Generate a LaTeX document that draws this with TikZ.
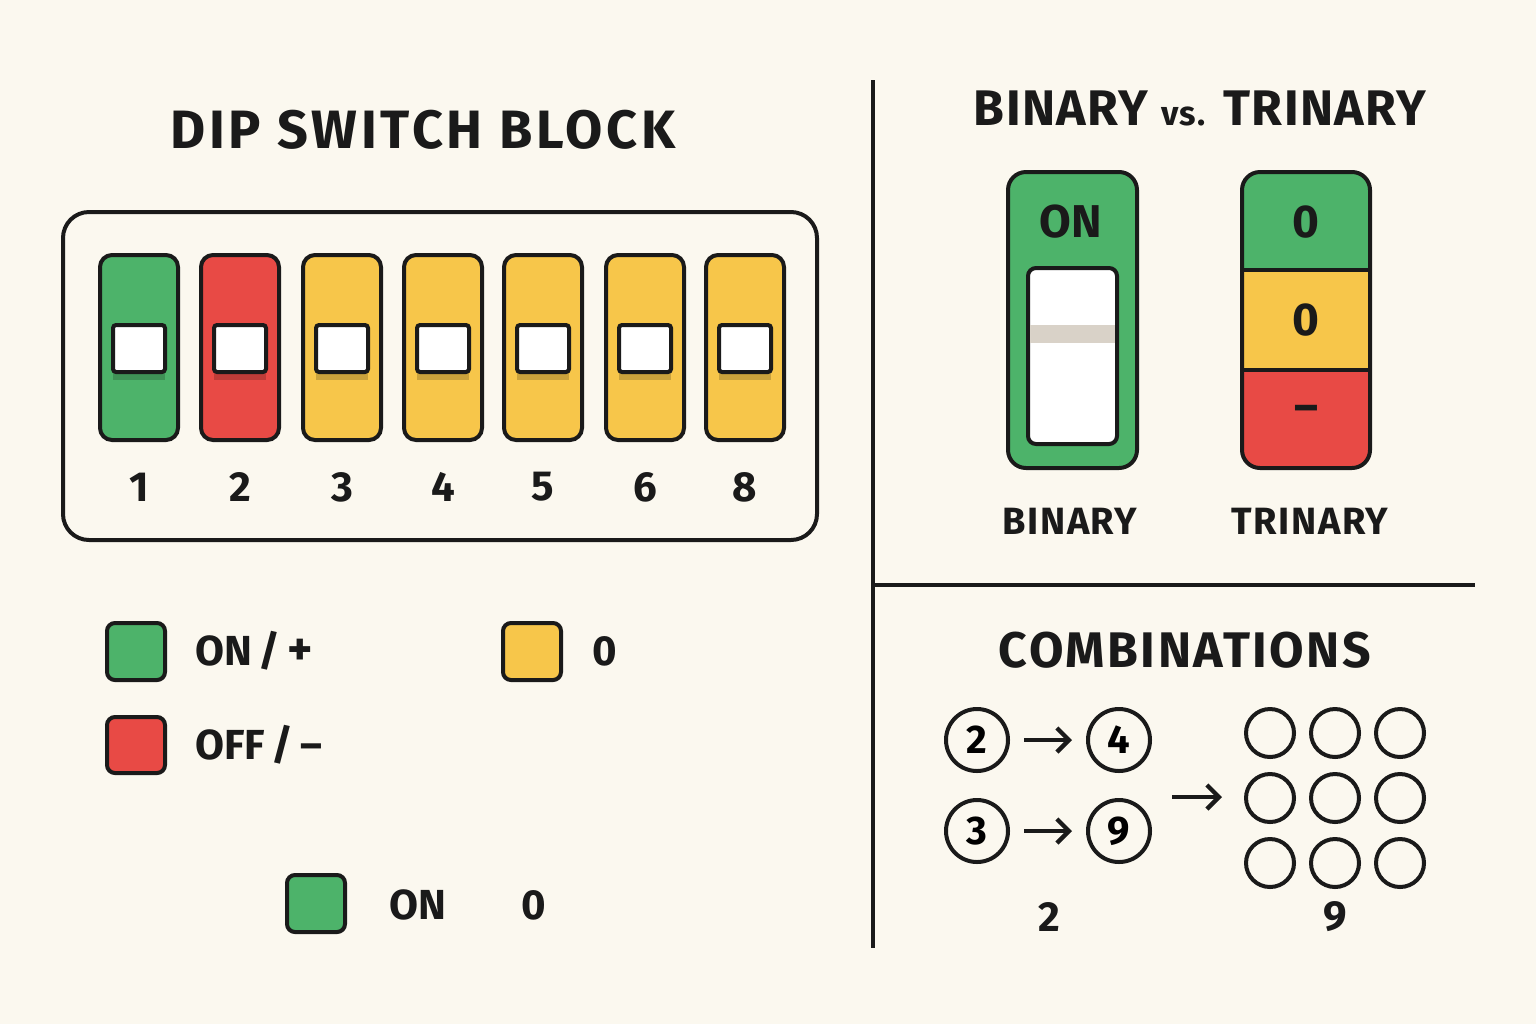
\documentclass[tikz,border=0pt]{standalone}
\usepackage{fontspec}
\setmainfont{Fira Sans}
\usetikzlibrary{arrows.meta}
\definecolor{bg}{HTML}{FBF8EF}
\definecolor{gr}{HTML}{4DB36A}
\definecolor{rd}{HTML}{E84A45}
\definecolor{yl}{HTML}{F7C64A}
\definecolor{ink}{HTML}{1A1A1A}
\definecolor{shd}{HTML}{D9D2C8}
\tikzset{
 x=0.5pt,y=-0.5pt,
 ol/.style={draw=ink,line width=2pt},
 sw/.style={ol,rounded corners=6pt},
 knob/.style={ol,fill=white,rounded corners=1.5pt},
 sq/.style={ol,rounded corners=4pt},
 big/.style={font=\fontsize{27}{30}\selectfont\bfseries\addfontfeature{LetterSpace=7},text=ink},
 mid/.style={font=\fontsize{21}{24}\selectfont\bfseries,text=ink},
 lab/.style={font=\fontsize{19}{22}\selectfont\bfseries\addfontfeature{LetterSpace=4},text=ink},
 cc/.style={ol,circle,minimum size=31pt,inner sep=0pt,font=\fontsize{20}{22}\selectfont\bfseries},
 gc/.style={ol,circle,minimum size=24pt,inner sep=0pt},
 arr/.style={draw=ink,line width=2.2pt,shorten <=7pt,shorten >=7pt,-{Straight Barb[length=6pt,width=12pt]}}
}
\begin{document}
\begin{tikzpicture}
\fill[bg] (0,0) rectangle (1536,1024);
\useasboundingbox (0,0) rectangle (1536,1024);
\node[big] (t1) at (423,130) {DIP SWITCH BLOCK};
\draw[ol,rounded corners=13pt] (63,212) rectangle (817,540);
\foreach \x/\c/\n in {139/gr/1,240/rd/2,342/yl/3,443/yl/4,543/yl/5,645/yl/6,745/yl/8}{
 \draw[sw,fill=\c] (\x-39,255) rectangle (\x+39,440);
 \fill[black,opacity=0.18] (\x-26,372) rectangle (\x+26,380);
 \draw[knob] (\x-26,325) rectangle (\x+26,372);
 \node[mid] (n\n) at (\x,487) {\n};
}
\draw[ol] (873,80) -- (873,948);
\draw[ol] (875,585) -- (1475,585);
\node[big,font=\fontsize{25}{28}\selectfont\bfseries\addfontfeature{LetterSpace=3}] (t2) at (1200,108) {BINARY {\fontsize{17}{20}\selectfont vs.} TRINARY};
% binary
\draw[sw,fill=gr,rounded corners=9pt] (1008,172) rectangle (1137,468);
\node[mid,font=\fontsize{23}{25}\selectfont\bfseries] (on) at (1071,222) {ON};
\draw[knob,rounded corners=4pt] (1028,268) rectangle (1117,444);
\fill[shd] (1030,325) rectangle (1115,343);
% trinary
\begin{scope}
\clip[rounded corners=9pt] (1242,172) rectangle (1370,468);
\fill[gr] (1242,172) rectangle (1370,270);
\fill[yl] (1242,270) rectangle (1370,370);
\fill[rd] (1242,370) rectangle (1370,468);
\end{scope}
\draw[ol] (1242,270) -- (1370,270) (1242,370) -- (1370,370);
\draw[sw,rounded corners=9pt] (1242,172) rectangle (1370,468);
\node[mid,font=\fontsize{23}{25}\selectfont\bfseries] (z1) at (1306,222) {0};
\node[mid,font=\fontsize{23}{25}\selectfont\bfseries] (z2) at (1306,320) {0};
\node[mid,font=\fontsize{23}{25}\selectfont\bfseries] (m1) at (1306,414) {–};
\node[lab] (lb) at (1070,521) {BINARY};
\node[lab] (lt) at (1310,521) {TRINARY};
% legend
\draw[sq,fill=gr] (107,623) rectangle (165,680);
\node[mid,anchor=west] (l1) at (188,651) {ON\,/\,{\fontsize{24}{24}\selectfont +}};
\draw[sq,fill=rd] (107,717) rectangle (165,773);
\node[mid,anchor=west] (l2) at (188,745) {OFF\,/\,–};
\draw[sq,fill=yl] (503,623) rectangle (561,680);
\node[mid,anchor=west] (l3) at (585,651) {0};
\draw[sq,fill=gr] (287,875) rectangle (345,932);
\node[mid] (l4) at (418,905) {ON};
\node[mid] (l5) at (534,905) {0};
% combinations
\node[big,font=\fontsize{25}{28}\selectfont\bfseries\addfontfeature{LetterSpace=5}] (t3) at (1185,650) {COMBINATIONS};
\node[cc] (c2) at (977,740) {2};
\node[cc] (c4) at (1119,740) {4};
\node[cc] (c3) at (977,831) {3};
\node[cc] (c9) at (1119,831) {9};
\draw[arr] (c2) -- (c4);
\draw[arr] (c3) -- (c9);
\coordinate (a1) at (1172,797); \coordinate (a2) at (1222,797);
\draw[arr,shorten <=0pt,shorten >=0pt] (a1) -- (a2);
\foreach \i/\x in {1/1270,2/1335,3/1400}{\foreach \j/\y in {1/733,2/798,3/863}{\node[gc] (g\i\j) at (\x,\y) {};}}
\node[mid] (s2) at (1049,917) {2};
\node[mid] (s9) at (1335,917) {9};
\end{tikzpicture}
\end{document}
